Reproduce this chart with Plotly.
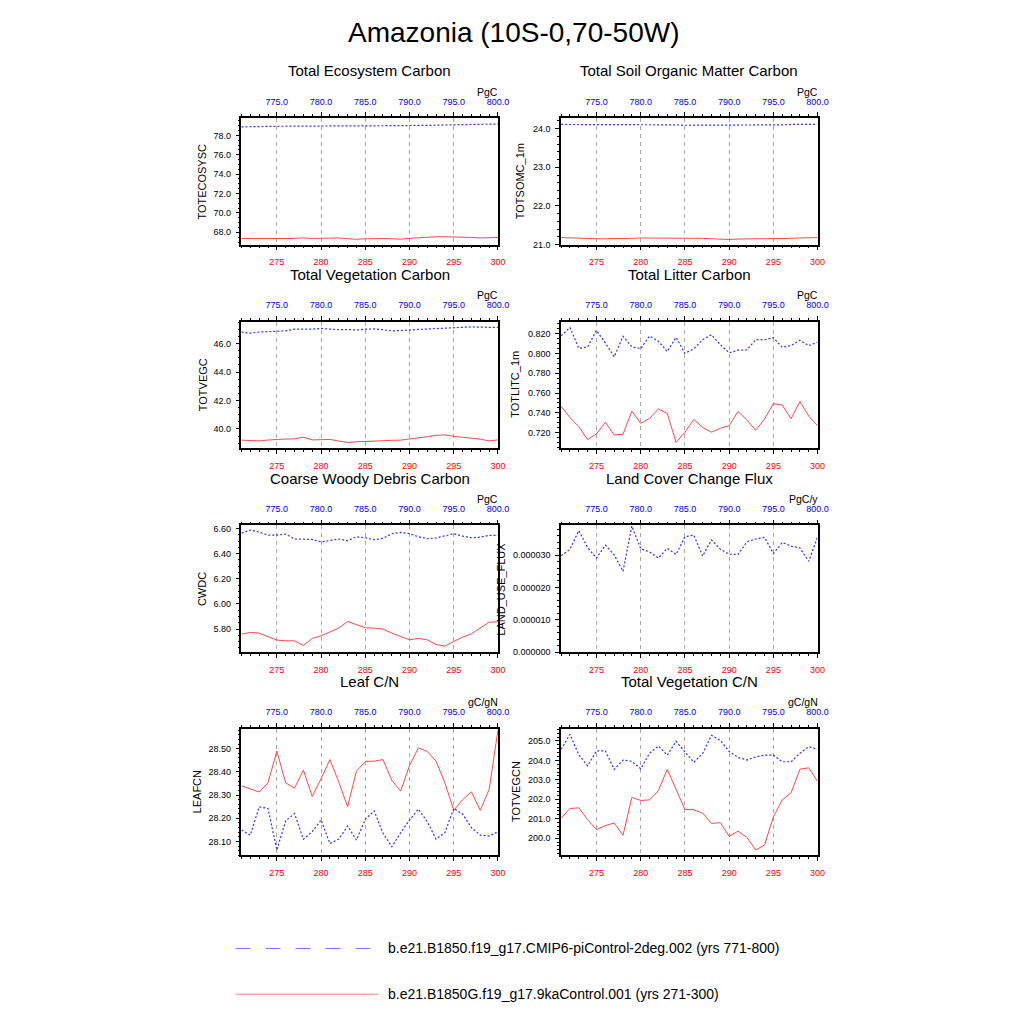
import plotly.graph_objects as go

FONT = "Liberation Sans"
W = H = 1024
# effective rendered width of the page (measured from previous renders)
W_EFF = 1011.0

red_years = list(range(271, 301))
blue_years = list(range(771, 801))

titles = ["Total Ecosystem Carbon", "Total Soil Organic Matter Carbon",
          "Total Vegetation Carbon", "Total Litter Carbon",
          "Coarse Woody Debris Carbon", "Land Cover Change Flux",
          "Leaf C/N", "Total Vegetation C/N"]
ylabels = ["TOTECOSYSC", "TOTSOMC_1m", "TOTVEGC", "TOTLITC_1m",
           "CWDC", "LAND_USE_FLUX", "LEAFCN", "TOTVEGCN"]
units = ["PgC", "PgC", "PgC", "PgC", "PgC", "PgC/y", "gC/gN", "gC/gN"]

blue_totecosysc = [78.88, 78.86, 78.90, 78.93, 78.94, 78.95, 78.96, 78.98, 79.00, 79.02,
                   79.00, 78.99, 78.98, 78.97, 78.97, 78.98, 78.99, 79.00, 79.00, 79.01,
                   79.02, 79.03, 79.05, 79.08, 79.12, 79.13, 79.14, 79.14, 79.15, 79.16]
red_totecosysc = [67.36, 67.35, 67.32, 67.34, 67.36, 67.36, 67.38, 67.42, 67.37, 67.38,
                  67.44, 67.42, 67.34, 67.28, 67.33, 67.36, 67.36, 67.33, 67.29, 67.38,
                  67.44, 67.50, 67.54, 67.54, 67.54, 67.52, 67.47, 67.42, 67.44, 67.47]

blue_totsomc = [24.11, 24.11, 24.11, 24.11, 24.11, 24.10, 24.10, 24.10, 24.10, 24.10,
                24.10, 24.10, 24.10, 24.10, 24.09, 24.09, 24.09, 24.10, 24.10, 24.10,
                24.10, 24.10, 24.10, 24.10, 24.10, 24.10, 24.11, 24.11, 24.11, 24.11]
red_totsomc = [21.18, 21.17, 21.16, 21.15, 21.15, 21.15, 21.15, 21.16, 21.16, 21.17,
               21.17, 21.17, 21.17, 21.17, 21.16, 21.16, 21.16, 21.15, 21.14, 21.13,
               21.14, 21.15, 21.15, 21.15, 21.15, 21.16, 21.16, 21.17, 21.17, 21.18]

blue_totvegc = [46.81, 46.74, 46.82, 46.86, 46.90, 46.90, 47.02, 47.00, 47.02, 47.07,
                47.03, 46.98, 47.00, 46.96, 47.02, 47.04, 46.98, 46.90, 46.92, 46.98,
                47.00, 47.03, 47.07, 47.07, 47.10, 47.14, 47.18, 47.16, 47.13, 47.14]
red_totvegc = [39.21, 39.20, 39.16, 39.22, 39.28, 39.29, 39.30, 39.42, 39.23, 39.27,
               39.26, 39.15, 39.05, 39.10, 39.14, 39.15, 39.17, 39.20, 39.21, 39.30,
               39.35, 39.45, 39.56, 39.58, 39.48, 39.42, 39.38, 39.28, 39.16, 39.23]

blue_totlitc = [0.8180, 0.8264, 0.8053, 0.8067, 0.8234, 0.8107, 0.7967, 0.8174, 0.8067, 0.8050,
                0.8177, 0.8124, 0.8020, 0.8164, 0.8003, 0.8047, 0.8140, 0.8190, 0.8090, 0.8007,
                0.8034, 0.8037, 0.8140, 0.8140, 0.8160, 0.8064, 0.8080, 0.8134, 0.8080, 0.8117]
red_totlitc = [0.7467, 0.7353, 0.7260, 0.7130, 0.7187, 0.7304, 0.7177, 0.7184, 0.7418, 0.7294,
               0.7344, 0.7440, 0.7394, 0.7100, 0.7204, 0.7334, 0.7254, 0.7204, 0.7244, 0.7270,
               0.7414, 0.7328, 0.7224, 0.7337, 0.7494, 0.7478, 0.7340, 0.7514, 0.7367, 0.7270]

blue_cwdc = [6.563, 6.587, 6.571, 6.547, 6.547, 6.555, 6.516, 6.516, 6.513, 6.492,
             6.502, 6.516, 6.502, 6.534, 6.526, 6.510, 6.521, 6.558, 6.568, 6.558,
             6.534, 6.518, 6.524, 6.539, 6.558, 6.539, 6.526, 6.531, 6.545, 6.545]
red_cwdc = [5.760, 5.774, 5.768, 5.739, 5.713, 5.707, 5.707, 5.670, 5.726, 5.747,
            5.776, 5.808, 5.861, 5.834, 5.810, 5.808, 5.800, 5.768, 5.742, 5.715,
            5.726, 5.715, 5.678, 5.665, 5.702, 5.736, 5.763, 5.810, 5.855, 5.858]

blue_luflux = [2.98e-5, 3.18e-5, 3.76e-5, 3.23e-5, 2.91e-5, 3.31e-5, 3.01e-5, 2.50e-5, 3.90e-5, 3.20e-5,
               3.10e-5, 2.91e-5, 3.21e-5, 3.02e-5, 3.57e-5, 3.62e-5, 2.97e-5, 3.47e-5, 3.18e-5, 3.03e-5,
               3.02e-5, 3.41e-5, 3.50e-5, 3.55e-5, 3.05e-5, 3.39e-5, 3.28e-5, 3.22e-5, 2.81e-5, 3.57e-5]
red_luflux = []

blue_leafcn = [28.149, 28.127, 28.249, 28.242, 28.063, 28.189, 28.220, 28.109, 28.142, 28.192,
               28.091, 28.110, 28.166, 28.106, 28.195, 28.232, 28.135, 28.077, 28.138, 28.192,
               28.239, 28.185, 28.110, 28.138, 28.242, 28.218, 28.159, 28.127, 28.123, 28.142]
red_leafcn = [28.340, 28.328, 28.313, 28.353, 28.490, 28.352, 28.330, 28.407, 28.294, 28.370,
              28.453, 28.356, 28.250, 28.403, 28.445, 28.446, 28.453, 28.363, 28.317, 28.427,
              28.503, 28.488, 28.446, 28.353, 28.234, 28.280, 28.314, 28.234, 28.324, 28.580]

blue_totvegcn = [204.57, 205.34, 204.29, 203.72, 204.49, 204.49, 203.54, 204.02, 203.95, 203.57,
                 204.37, 204.74, 204.27, 204.98, 204.44, 203.90, 204.35, 205.29, 205.03, 204.46,
                 204.15, 204.02, 204.18, 204.27, 204.27, 203.93, 203.93, 204.37, 204.71, 204.57]
red_totvegcn = [201.02, 201.53, 201.56, 200.95, 200.44, 200.65, 200.78, 200.15, 202.10, 201.94,
                201.97, 202.45, 203.54, 202.48, 201.48, 201.46, 201.29, 200.76, 200.80, 200.10,
                200.36, 200.05, 199.39, 199.66, 201.09, 201.97, 202.33, 203.55, 203.62, 202.92]

blue_series = [blue_totecosysc, blue_totsomc, blue_totvegc, blue_totlitc,
               blue_cwdc, blue_luflux, blue_leafcn, blue_totvegcn]
red_series = [red_totecosysc, red_totsomc, red_totvegc, red_totlitc,
              red_cwdc, red_luflux, red_leafcn, red_totvegcn]

y_ranges = [[66.74, 79.8], [21.0, 24.28], [38.65, 47.56], [0.7043, 0.8324],
            [5.618, 6.624], [0.0, 3.92e-5], [28.04, 28.586], [199.12, 205.63]]
y_dtick = [2.0, 1.0, 2.0, 0.02, 0.2, 1e-5, 0.1, 1.0]
y_minor = [0.5, 0.2, 0.5, 0.005, 0.05, 2e-6, 0.02, 0.2]
y_fmt = [".1f", ".1f", ".1f", ".3f", ".2f", ".6f", ".2f", ".1f"]
ytitle_px = [202, 519, 202, 514, 201, 500, 197, 515]

legend_labels = ["b.e21.B1850.f19_g17.CMIP6-piControl-2deg.002 (yrs 771-800)",
                 "b.e21.B1850G.f19_g17.9kaControl.001 (yrs 271-300)"]

BLUE = "#3030ff"
RED = "#ff4848"

col_x = [(241, 497), (560, 816)]
row_top = [116.7, 321.7, 527.0, 731.7]
ph = 127.5


def px_x(p):
    return p / W_EFF


def px_y(p):
    return 1 - p / H


fig = go.Figure()
annotations = []
shapes = []

for k in range(8):
    r, c = divmod(k, 2)
    x0, x1 = col_x[c]
    top = row_top[r]
    bot = top + ph
    xd = [px_x(x0), px_x(x1)]
    yd = [px_y(bot), px_y(top)]
    xb = 2 * k + 1
    xt = 2 * k + 2
    yi = k + 1
    xb_name = "xaxis" if xb == 1 else f"xaxis{xb}"
    yname = "yaxis" if yi == 1 else f"yaxis{yi}"
    xb_ref = "x" if xb == 1 else f"x{xb}"
    y_ref = "y" if yi == 1 else f"y{yi}"

    fig.update_layout({
        xb_name: dict(domain=xd, anchor=y_ref, range=[271, 300], tick0=0, dtick=5,
                      ticks="outside", ticklen=4, tickwidth=1, tickcolor="black",
                      ticklabelstandoff=4,
                      tickfont=dict(family=FONT, size=9, color="#ff0000"),
                      showline=True, linecolor="black", linewidth=1.5, mirror=True,
                      showgrid=True, gridcolor="#ababab", griddash="4px,4px", gridwidth=1,
                      zeroline=False,
                      minor=dict(dtick=1, ticks="outside", ticklen=2, tickcolor="black",
                                 showgrid=False)),
        f"xaxis{xt}": dict(domain=xd, anchor=y_ref, overlaying=xb_ref, side="top",
                           range=[771, 800], tick0=0, dtick=5, tickformat=".1f",
                           ticks="outside", ticklen=4, tickwidth=1, tickcolor="black",
                           ticklabelstandoff=4,
                           tickfont=dict(family=FONT, size=9, color="#0000ff"),
                           showline=True, linecolor="black", linewidth=1.5,
                           showgrid=False, zeroline=False,
                           minor=dict(dtick=1, ticks="outside", ticklen=2,
                                      tickcolor="black", showgrid=False)),
        yname: dict(domain=yd, anchor=xb_ref, range=y_ranges[k], tick0=0,
                    dtick=y_dtick[k], tickformat=y_fmt[k],
                    ticks="outside", ticklen=4, tickwidth=1, tickcolor="black",
                    ticklabelstandoff=3,
                    tickfont=dict(family=FONT, size=9, color="black"),
                    showline=True, linecolor="black", linewidth=1.5, mirror=True,
                    showgrid=False, zeroline=False,
                    minor=dict(dtick=y_minor[k], ticks="outside", ticklen=2,
                               tickcolor="black", showgrid=False)),
    })

    fig.add_trace(go.Scatter(x=red_years[:len(red_series[k])], y=red_series[k],
                             mode="lines", line=dict(color=RED, width=1),
                             xaxis=xb_ref, yaxis=y_ref, showlegend=False))
    fig.add_trace(go.Scatter(x=blue_years[:len(blue_series[k])], y=blue_series[k],
                             mode="lines",
                             line=dict(color=BLUE, width=1.2, dash="2px,2px"),
                             xaxis=f"x{xt}", yaxis=y_ref, showlegend=False))

    annotations.append(dict(text=titles[k], xref="paper", yref="paper",
                            x=px_x((x0 + x1) / 2), y=px_y(top - 47.5),
                            xanchor="center", yanchor="middle", showarrow=False,
                            font=dict(family=FONT, size=15, color="black")))
    annotations.append(dict(text=units[k], xref="paper", yref="paper",
                            x=px_x(x1 + 2), y=px_y(top - 26.5),
                            xanchor="right", yanchor="middle", showarrow=False,
                            font=dict(family=FONT, size=10.5, color="black")))
    annotations.append(dict(text=ylabels[k], xref="paper", yref="paper",
                            x=px_x(ytitle_px[k]), y=px_y((top + bot) / 2),
                            xanchor="center", yanchor="middle", showarrow=False,
                            textangle=-90,
                            font=dict(family=FONT, size=11, color="black")))

annotations.append(dict(text="Amazonia (10S-0,70-50W)", xref="paper", yref="paper",
                        x=px_x(512), y=px_y(31), xanchor="center", yanchor="middle",
                        showarrow=False, font=dict(family=FONT, size=28, color="black")))

legend_y = [953, 999]
shapes.append(dict(type="line", xref="paper", yref="paper",
                   x0=px_x(235), x1=px_x(373), y0=px_y(legend_y[0]), y1=px_y(legend_y[0]),
                   line=dict(color="#7a7aff", width=1, dash="15px,15px")))
shapes.append(dict(type="line", xref="paper", yref="paper",
                   x0=px_x(235), x1=px_x(378), y0=px_y(legend_y[1]), y1=px_y(legend_y[1]),
                   line=dict(color="#ff8080", width=1)))
for i, lab in enumerate(legend_labels):
    annotations.append(dict(text=lab, xref="paper", yref="paper",
                            x=px_x(385), y=px_y(legend_y[i]), xanchor="left",
                            yanchor="middle", showarrow=False,
                            font=dict(family=FONT, size=14, color="black")))

fig.update_layout(width=W, height=H, autosize=False,
                  margin=dict(l=0, r=0, t=0, b=0, pad=0),
                  paper_bgcolor="white", plot_bgcolor="white",
                  annotations=annotations, shapes=shapes, showlegend=False)

fig.write_html("out.html",
               config={"displayModeBar": False, "responsive": False},
               post_script=("document.documentElement.style.margin='0px';"
                            "document.body.style.margin='0px';"
                            "document.documentElement.style.overflow='hidden';"
                            "document.body.style.overflow='hidden';"))
